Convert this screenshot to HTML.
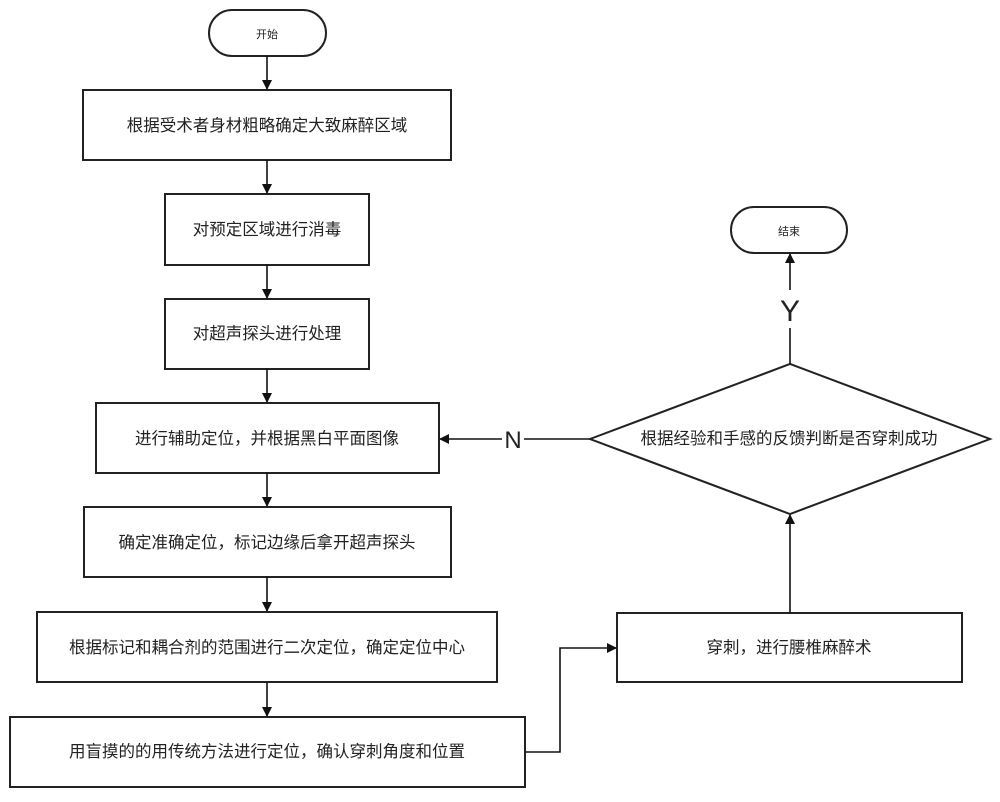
<!DOCTYPE html>
<html><head><meta charset="utf-8"><style>
html,body{margin:0;padding:0;background:#fff;}
svg text{font-family:"Liberation Sans","Noto Sans CJK SC",sans-serif;fill:#222;}
</style></head><body>
<svg width="1000" height="797" viewBox="0 0 1000 797" xmlns="http://www.w3.org/2000/svg">
<defs><marker id="a" markerWidth="10" markerHeight="10" refX="9" refY="5" orient="auto" markerUnits="userSpaceOnUse"><path d="M0,0 L10,5 L0,10 z" fill="#111"/></marker></defs>
<g fill="none" stroke="#222" stroke-width="2">
<rect x="209" y="10" width="117" height="46" rx="23"/>
<rect x="83" y="90" width="368" height="70"/>
<rect x="165" y="194" width="204" height="71"/>
<rect x="165" y="299" width="204" height="70"/>
<rect x="96" y="403" width="343" height="70"/>
<rect x="84" y="507" width="367" height="70"/>
<rect x="37" y="612" width="460" height="70"/>
<rect x="10" y="717" width="515" height="70"/>
<rect x="617" y="613" width="345" height="69"/>
<rect x="731" y="207" width="116" height="46" rx="23"/>
<polygon points="590,439 790,364 990,439 790,514"/>
</g>
<g stroke="#111" stroke-width="1.6" fill="none" marker-end="url(#a)">
<line x1="267" y1="56" x2="267" y2="89"/>
<line x1="267" y1="160" x2="267" y2="193"/>
<line x1="267" y1="265" x2="267" y2="298"/>
<line x1="267" y1="369" x2="267" y2="402"/>
<line x1="267" y1="473" x2="267" y2="506"/>
<line x1="267" y1="577" x2="267" y2="611"/>
<line x1="267" y1="682" x2="267" y2="716"/>
<polyline points="525,752 560,752 560,648 616,648"/>
<line x1="790" y1="613" x2="790" y2="515"/>
<line x1="790" y1="333" x2="790" y2="254"/>
<line x1="590" y1="439" x2="440" y2="439"/>
</g>
<line x1="790" y1="364" x2="790" y2="333" stroke="#111" stroke-width="1.6"/>
<rect x="502" y="426" width="22" height="26" fill="#fff"/>
<rect x="778" y="290" width="24" height="38" fill="#fff"/>
<text x="513" y="448" font-size="24" text-anchor="middle">N</text>
<text x="790" y="321" font-size="30" text-anchor="middle">Y</text>
<g font-size="16.5" text-anchor="middle">
<text x="267" y="38" font-size="11">开始</text>
<text x="789" y="235" font-size="11" fill="#777">结束</text>
<text x="267" y="131">根据受术者身材粗略确定大致麻醉区域</text>
<text x="267" y="235">对预定区域进行消毒</text>
<text x="267" y="339">对超声探头进行处理</text>
<text x="267" y="444">进行辅助定位，并根据黑白平面图像</text>
<text x="267" y="548">确定准确定位，标记边缘后拿开超声探头</text>
<text x="267" y="653">根据标记和耦合剂的范围进行二次定位，确定定位中心</text>
<text x="267" y="757">用盲摸的的用传统方法进行定位，确认穿刺角度和位置</text>
<text x="789" y="653">穿刺，进行腰椎麻醉术</text>
<text x="789" y="444">根据经验和手感的反馈判断是否穿刺成功</text>
</g>
</svg>
</body></html>
